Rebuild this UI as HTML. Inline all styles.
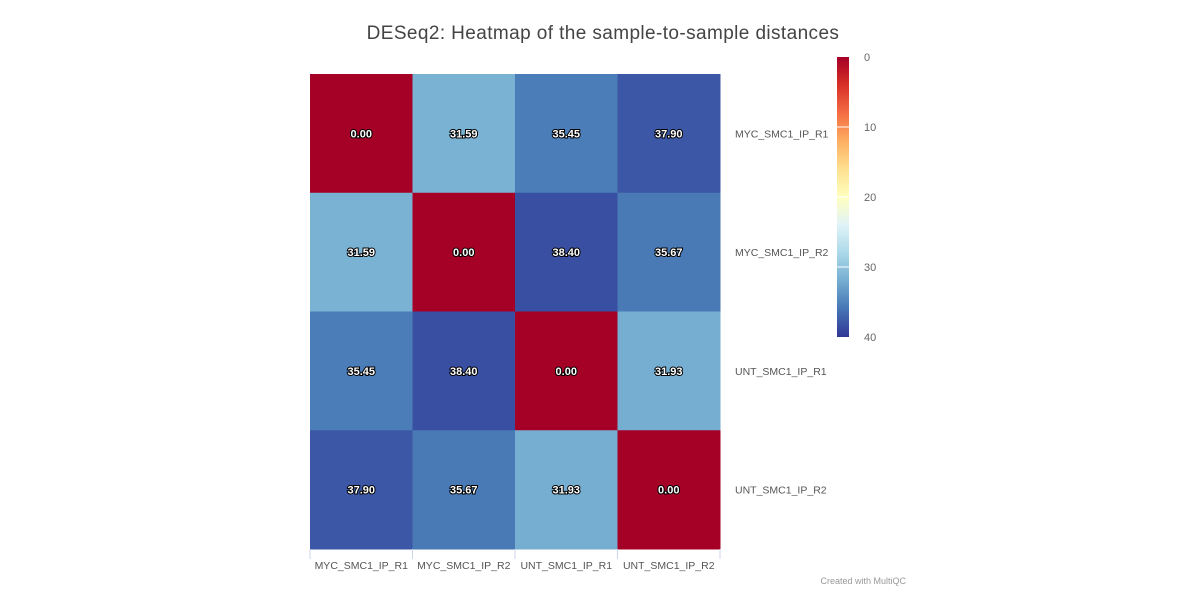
<!DOCTYPE html>
<html><head><meta charset="utf-8"><style>
body{margin:0;background:#fff;font-family:"Liberation Sans",sans-serif;}
svg text{font-family:"Liberation Sans","DejaVu Sans",sans-serif;}
</style></head><body>
<svg id="chart" width="1200" height="611" xmlns="http://www.w3.org/2000/svg">
<defs>
<linearGradient id="cbg" x1="0" y1="0" x2="0" y2="1">
<stop offset="0" stop-color="#a50026"/><stop offset="0.1" stop-color="#d73027"/><stop offset="0.2" stop-color="#f46d43"/><stop offset="0.3" stop-color="#fdae61"/><stop offset="0.4" stop-color="#fee090"/><stop offset="0.5" stop-color="#ffffbf"/><stop offset="0.6" stop-color="#e0f3f8"/><stop offset="0.7" stop-color="#abd9e9"/><stop offset="0.8" stop-color="#74add1"/><stop offset="0.9" stop-color="#4575b4"/><stop offset="1" stop-color="#313695"/>
</linearGradient>
</defs>
<text x="603" y="39" text-anchor="middle" font-size="19" letter-spacing="0.4" fill="#444">DESeq2: Heatmap of the sample-to-sample distances</text>
<g id="cells"></g>
<g id="xlabels"></g>
<g id="ylabels"></g>
<rect x="837" y="57" width="12" height="280" fill="url(#cbg)"/>
<g id="cbticks"></g>
<text x="906" y="584" text-anchor="end" font-size="9" fill="#999">Created with MultiQC</text>
</svg>
<script>
const samples=["MYC_SMC1_IP_R1","MYC_SMC1_IP_R2","UNT_SMC1_IP_R1","UNT_SMC1_IP_R2"];
const row0=[0.00,31.59,35.45,37.90];
const row1=[31.59,0.00,38.40,35.67];
const row2=[35.45,38.40,0.00,31.93];
const row3=[37.90,35.67,31.93,0.00];
const cbTicks=[0,10,20,30,40];
const matrix=[row0,row1,row2,row3];
const NS="http://www.w3.org/2000/svg";
const X0=310,X1=720,Y0=74,Y1=549,VMAX=40,CB0=57,CB1=337;
const stops=["#a50026","#d73027","#f46d43","#fdae61","#fee090","#ffffbf","#e0f3f8","#abd9e9","#74add1","#4575b4","#313695"];
function hex(c){return [1,3,5].map(i=>parseInt(c.substr(i,2),16));}
function color(v){let t=Math.max(0,Math.min(1,v/VMAX))*10;let i=Math.min(9,Math.floor(t));let f=t-i;let a=hex(stops[i]),b=hex(stops[i+1]);return "rgb("+a.map((x,k)=>Math.round(x+(b[k]-x)*f)).join(",")+")";}
const cw=(X1-X0)/samples.length,ch=(Y1-Y0)/samples.length;
const xs=i=>X0+i*cw, ys=j=>Y0+j*ch;
const cells=document.getElementById("cells");
matrix.forEach((row,j)=>row.forEach((v,i)=>{
 const r=document.createElementNS(NS,"rect");
 r.setAttribute("x",xs(i));r.setAttribute("y",ys(j));r.setAttribute("width",cw+0.5);r.setAttribute("height",ch+0.5);r.setAttribute("fill",color(v));
 
 
 cells.appendChild(r);
 const t=document.createElementNS(NS,"text");
 t.setAttribute("x",xs(i)+cw/2);t.setAttribute("y",ys(j)+ch/2+4);t.setAttribute("text-anchor","middle");
 t.setAttribute("font-size","11");t.setAttribute("font-weight","bold");t.setAttribute("fill","#fff");
 t.setAttribute("stroke","#000");t.setAttribute("stroke-width","2");t.setAttribute("paint-order","stroke");
 t.textContent=v.toFixed(2);
 
 
 cells.appendChild(t);
}));
const xl=document.getElementById("xlabels"),yl=document.getElementById("ylabels");
samples.forEach((s,i)=>{
 const tk=document.createElementNS(NS,"line");
 tk.setAttribute("x1",xs(i)+cw);tk.setAttribute("x2",xs(i)+cw);tk.setAttribute("y1",Y1);tk.setAttribute("y2",Y1+10);tk.setAttribute("stroke","#ccd6eb");
 
 
 xl.appendChild(tk);
 if(i==0){const t0=tk.cloneNode();t0.setAttribute("x1",X0);t0.setAttribute("x2",X0);xl.appendChild(t0);}
 const t=document.createElementNS(NS,"text");
 t.setAttribute("x",xs(i)+cw/2);t.setAttribute("y",Y1+20);t.setAttribute("text-anchor","middle");t.setAttribute("font-size","10.5");t.setAttribute("fill","#555");
 t.textContent=s;
 
 
 xl.appendChild(t);
 const u=document.createElementNS(NS,"text");
 u.setAttribute("x",735);u.setAttribute("y",ys(i)+ch/2+4);u.setAttribute("font-size","10.5");u.setAttribute("fill","#555");
 u.textContent=s;
 
 
 yl.appendChild(u);
});
const cb=document.getElementById("cbticks");
cbTicks.forEach(v=>{
 const y=CB0+(CB1-CB0)*v/VMAX;
 if(v>0&&v<VMAX){const l=document.createElementNS(NS,"line");l.setAttribute("x1",837);l.setAttribute("x2",849);l.setAttribute("y1",y);l.setAttribute("y2",y);l.setAttribute("stroke","#fff");
 
 
 cb.appendChild(l);}
 const t=document.createElementNS(NS,"text");
 t.setAttribute("x",864);t.setAttribute("y",y+4);t.setAttribute("font-size","11");t.setAttribute("fill","#666");
 t.textContent=v;
 
 
 cb.appendChild(t);
});
</script>
</body></html>
